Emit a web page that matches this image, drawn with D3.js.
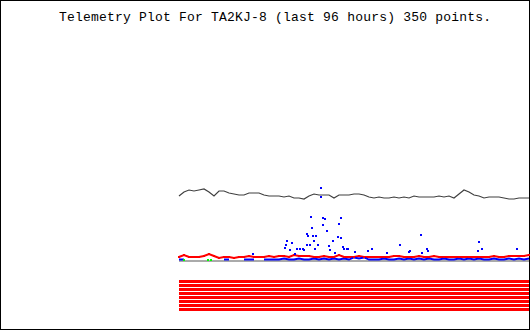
<!DOCTYPE html>
<html>
<head>
  <meta charset="utf-8">
  <title>Telemetry Plot TA2KJ-8</title>
  <script src="https://d3js.org/d3.v7.min.js"></script>
  <style>
    body { margin: 0; background: #fff; }
    svg { display: block; }
  </style>
</head>
<body>
<script>
// data: 350 samples, one value every 5 samples
var title = "Telemetry Plot For TA2KJ-8 (last 96 hours) 350 points.";
var nPoints = 350;
var step = 5;

// upper trace (dark)
var voltage = [4, 8, 10, 9, 10, 11, 8, 4, 9, 9, 7, 6, 5, 5, 7, 7, 7, 5, 4, 4,
  4, 3, 4, 2, 2, 1, 4, 6, 5, 5, 5, 2, 5, 5, 5, 6, 6, 5, 3, 2,
  3, 2, 2, 3, 2, 3, 2, 4, 3, 3, 3, 3, 4, 3, 4, 2, 6, 10, 8, 5,
  4, 2, 3, 3, 3, 2, 1, 1, 2, 2, 2];

// red trace near baseline
var redSeries = [3, 5, 3, 3, 3, 4, 6, 4, 2, 3, 3, 2, 3, 3, 4, 3, 3, 3, 4, 3,
  4, 4, 3, 5, 4, 4, 4, 3, 3, 4, 3, 3, 5, 3, 3, 3, 4, 3, 3, 3,
  3, 3, 3, 4, 4, 3, 3, 3, 4, 3, 3, 4, 3, 3, 3, 3, 3, 3, 3, 3,
  3, 3, 3, 4, 3, 3, 4, 4, 4, 4, 5];

// blue trace near baseline (null = no sample)
var blueBase = [1, 1, null, null, null, null, null, null, null, 1, 1, null, null, 1, 1, 1, null, 1, 1, 1,
  1, 2, 1, 1, 2, 1, 1, 2, 1, 2, 1, 2, 1, 2, 1, 3, 2, 3, 1, 1,
  1, 2, 1, 1, 2, 1, 2, 1, 2, 1, 2, 1, 1, 2, 1, 1, 2, 1, 2, 1,
  2, 1, 1, 2, 1, 1, 2, 1, 2, 1, 2];

// blue outliers: sample index and value
var spikeIdx = [132, 133, 128, 129, 134, 137, 135, 139, 128, 131, 108, 107, 106, 113, 144, 146, 144, 148,
  162, 160, 159, 162, 154, 150, 164, 165, 168, 169, 124, 121, 118, 116, 111, 125, 136, 151, 156, 74,
  242, 221, 300, 303, 299, 338, 193, 189, 176, 231, 230, 248, 249, 208, 243, 142, 142];
var spikeVal = [43, 32, 26, 24, 24, 24, 19, 15, 15, 15, 19, 15, 12, 17, 42, 41, 35, 29,
  42, 36, 23, 22, 19, 14, 13, 11, 11, 11, 11, 11, 11, 6, 10, 10, 11, 10, 7, 6,
  25, 15, 18, 11, 9, 11, 11, 9, 8, 9, 8, 11, 9, 7, 7, 72, 63];

// green samples
var greenIdx = [5, 29, 32];

// status bits
var bits = [1, 1, 1, 1, 1, 1, 1, 1];

var width = 530, height = 330;
var svg = d3.select("body").append("svg")
  .attr("width", width).attr("height", height)
  .attr("shape-rendering", "crispEdges");

svg.append("rect")
  .attr("x", 0.5).attr("y", 0.5)
  .attr("width", width - 1).attr("height", height - 1)
  .attr("fill", "#fff").attr("stroke", "#000");

svg.append("text")
  .attr("x", 59).attr("y", 21)
  .attr("font-family", "'Liberation Mono', 'DejaVu Sans Mono', monospace")
  .attr("font-size", "13px")
  .attr("textLength", 432)
  .attr("lengthAdjust", "spacing")
  .attr("fill", "#000")
  .text(title);

var x = d3.scaleLinear().domain([0, nPoints]).range([179, 529]);
var yV = d3.scaleLinear().domain([0, 15]).range([200, 185]);
var yB = d3.scaleLinear().domain([0, 50]).range([260, 210]);

// baseline bar
svg.append("rect")
  .attr("x", x(0)).attr("y", yB(0))
  .attr("width", x(nPoints) - x(0)).attr("height", 2)
  .attr("fill", "#aaaaaa");

// dark trace
var vLine = d3.line()
  .x(function(d, i) { return x(i * step); })
  .y(function(d) { return yV(d); });
svg.append("path")
  .datum(voltage)
  .attr("d", vLine)
  .attr("fill", "none")
  .attr("stroke", "#404040")
  .attr("stroke-width", 1.2)
  .attr("shape-rendering", "auto");

// red trace
var rLine = d3.line()
  .x(function(d, i) { return x(i * step); })
  .y(function(d) { return yB(d); });
svg.append("path")
  .datum(redSeries)
  .attr("d", rLine)
  .attr("fill", "none")
  .attr("stroke", "#ff0000")
  .attr("stroke-width", 2)
  .attr("shape-rendering", "auto");

// blue trace near baseline
var bLine = d3.line()
  .defined(function(d) { return d !== null; })
  .x(function(d, i) { return x(i * step); })
  .y(function(d) { return yB(d) + 0.5; });
svg.append("path")
  .datum(blueBase)
  .attr("d", bLine)
  .attr("fill", "none")
  .attr("stroke", "#0000ff")
  .attr("stroke-width", 1.8)
  .attr("shape-rendering", "auto");

svg.selectAll("rect.red")
  .data(redSeries)
  .enter().append("rect")
  .attr("class", "red")
  .attr("x", function(d, i) { return x(i * step) - 1; })
  .attr("y", function(d) { return yB(d) - 1; })
  .attr("width", 2).attr("height", 2)
  .attr("fill", "#ff0000");

svg.selectAll("rect.spike")
  .data(spikeIdx)
  .enter().append("rect")
  .attr("class", "spike")
  .attr("x", function(d) { return x(d) - 1; })
  .attr("y", function(d, i) { return yB(spikeVal[i]) - 1; })
  .attr("width", 2).attr("height", 2)
  .attr("fill", "#0000ff");

svg.selectAll("rect.green")
  .data(greenIdx)
  .enter().append("rect")
  .attr("class", "green")
  .attr("x", function(d) { return x(d) - 1; })
  .attr("y", yB(1) - 0.5)
  .attr("width", 2).attr("height", 2)
  .attr("fill", "#00ff00");

// status bits
svg.selectAll("rect.bit")
  .data(bits)
  .enter().append("rect")
  .attr("class", "bit")
  .attr("x", x(0))
  .attr("y", function(d, i) { return 280 + i * 4; })
  .attr("width", x(nPoints) - x(0))
  .attr("height", 3)
  .attr("fill", function(d) { return d ? "#ff0000" : "#fff"; });
</script>
</body>
</html>
